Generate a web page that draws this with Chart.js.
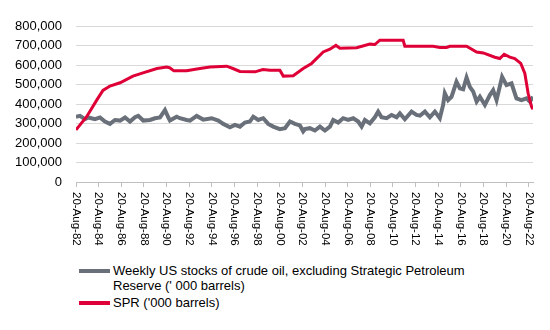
<!DOCTYPE html>
<html>
<head>
<meta charset="utf-8">
<script src="https://cdn.jsdelivr.net/npm/chart.js@4"></script>
<style>
  body { margin: 0; background: #fff; }
  #wrap { position: relative; width: 550px; height: 330px; }
  #oilChart { position: absolute; left: 0; top: 0; }
  #legend { position: absolute; left: 79px; top: 263px; font: 13px "Liberation Sans", Arial, sans-serif; color: #000; }
  .item { position: relative; padding-left: 34px; line-height: 15px; margin-bottom: 2px; }
  .swatch { position: absolute; left: 0; top: 6px; width: 31px; height: 4px; }
</style>
</head>
<body>
<div id="wrap">
  <canvas id="oilChart" width="550" height="252"></canvas>
  <div id="legend"></div>
</div>
<script>
// Weekly US commercial crude stocks ('000 barrels)
const stockYears = [1982.63, 1982.98, 1983.42, 1983.72, 1984.31, 1984.75, 1985.19, 1985.63, 1986.07, 1986.52,
    1986.96, 1987.40, 1987.84, 1988.13, 1988.57, 1989.16, 1989.61, 1990.05, 1990.49, 1990.78,
    1990.93, 1991.52, 1991.81, 1992.41, 1992.70, 1993.29, 1993.87, 1994.61, 1995.20, 1995.64,
    1996.23, 1996.67, 1997.11, 1997.55, 1997.99, 1998.29, 1998.73, 1999.17, 1999.61, 2000.05,
    2000.64, 2001.09, 2001.53, 2001.97, 2002.41, 2002.70, 2002.85, 2003.29, 2003.73, 2004.18,
    2004.62, 2005.06, 2005.35, 2005.79, 2006.23, 2006.67, 2007.12, 2007.56, 2007.86, 2008.15,
    2008.59, 2009.03, 2009.32, 2009.62, 2010.07, 2010.51, 2010.95, 2011.24, 2011.68, 2012.27,
    2012.71, 2013.01, 2013.45, 2013.89, 2014.33, 2014.77, 2015.06, 2015.21, 2015.50, 2015.80,
    2016.24, 2016.54, 2016.83, 2017.13, 2017.42, 2017.72, 2018.02, 2018.31, 2018.75, 2019.19,
    2019.48, 2019.78, 2020.27, 2020.66, 2021.10, 2021.54, 2021.98, 2022.43, 2022.72, 2023.00];
const stockValues = [335, 339, 322, 331, 322, 331, 310, 298, 318, 315,
    331, 310, 332, 339, 315, 318, 327, 331, 369, 332,
    315, 335, 327, 318, 315, 339, 320, 327, 315, 298,
    281, 293, 284, 305, 310, 335, 318, 327, 298, 284,
    271, 276, 310, 298, 290, 260, 271, 276, 264, 284,
    264, 284, 318, 305, 327, 318, 327, 310, 284, 318,
    301, 332, 361, 332, 327, 344, 332, 352, 322, 361,
    344, 340, 361, 332, 361, 327, 395, 455, 420, 437,
    514, 480, 475, 536, 488, 463, 412, 437, 395, 446,
    471, 420, 539, 497, 506, 429, 420, 429, 412, 437];

// SPR ('000 barrels)
const sprYears = [1982.63, 1983.57, 1984.46, 1985.01, 1985.63, 1986.52, 1987.66, 1988.55, 1989.78, 1990.64,
    1990.93, 1991.28, 1992.40, 1993.58, 1994.46, 1995.94, 1996.49, 1997.11, 1998.44, 1999.14,
    1999.76, 2000.64, 2000.94, 2001.82, 2002.70, 2003.44, 2004.47, 2005.06, 2005.59, 2005.94,
    2007.42, 2008.59, 2009.03, 2009.47, 2011.53, 2011.68, 2014.18, 2014.77, 2015.36, 2015.66,
    2017.13, 2018.02, 2018.60, 2019.63, 2020.07, 2020.45, 2020.95, 2021.39, 2021.92, 2022.28,
    2022.57, 2022.87, 2023.00];
const sprValues = [267, 335, 420, 470, 492, 509, 543, 560, 582, 590,
    585, 570, 570, 582, 590, 594, 582, 567, 565, 577,
    573, 573, 543, 545, 582, 608, 667, 681, 701, 686,
    689, 707, 705, 727, 727, 696, 696, 690, 690, 696,
    696, 667, 662, 640, 633, 655, 640, 633, 608, 557,
    455, 386, 373];

const tickYears = [1982.63, 1984.63, 1986.63, 1988.63, 1990.63, 1992.63, 1994.63, 1996.63, 1998.63, 2000.63,
    2002.63, 2004.63, 2006.63, 2008.63, 2010.63, 2012.63, 2014.63, 2016.63, 2018.63, 2020.63, 2022.63];
const tickLabels = ["20-Aug-82", "20-Aug-84", "20-Aug-86", "20-Aug-88", "20-Aug-90", "20-Aug-92", "20-Aug-94",
    "20-Aug-96", "20-Aug-98", "20-Aug-00", "20-Aug-02", "20-Aug-04", "20-Aug-06", "20-Aug-08", "20-Aug-10",
    "20-Aug-12", "20-Aug-14", "20-Aug-16", "20-Aug-18", "20-Aug-20", "20-Aug-22"];

const seriesNames = ["Weekly US stocks of crude oil, excluding Strategic Petroleum<br>Reserve (' 000 barrels)", "SPR ('000 barrels)"];
const GREY = "#6a7079";
const RED = "#de0036";

const FONT = "\"Liberation Sans\", Arial, sans-serif";

// rotated clockwise date labels (Chart.js only rotates the other way)
const dateLabels = {
    id: "dateLabels",
    afterDraw(chart) {
        const xs = chart.scales.x;
        const c = chart.ctx;
        c.save();
        c.font = "11.5px " + FONT;
        c.fillStyle = "#000";
        c.textAlign = "left";
        c.textBaseline = "middle";
        tickYears.forEach((t, i) => {
            c.save();
            c.translate(xs.getPixelForValue(t), xs.top + 10);
            c.rotate(Math.PI / 2);
            c.fillText(tickLabels[i], 0, 0);
            c.restore();
        });
        c.restore();
    }
};

const chart = new Chart(document.getElementById("oilChart"), {
    type: "line",
    data: {
        datasets: [{
            label: "SPR",
            data: sprYears.map((x, i) => ({ x: x, y: sprValues[i] * 1000 })),
            borderColor: RED,
            borderWidth: 3,
            pointRadius: 0,
            tension: 0,
            order: 0
        }, {
            label: "Stocks",
            data: stockYears.map((x, i) => ({ x: x, y: stockValues[i] * 1000 })),
            borderColor: GREY,
            borderWidth: 4,
            pointRadius: 0,
            tension: 0,
            order: 1
        }]
    },
    options: {
        responsive: false,
        animation: false,
        layout: { padding: { top: 26, right: 17, left: 0, bottom: 0 } },
        plugins: { legend: { display: false }, tooltip: { enabled: false } },
        scales: {
            x: {
                type: "linear",
                min: 1982.63,
                max: 2023.0,
                afterBuildTicks: (s) => { s.ticks = tickYears.map(v => ({ value: v })); },
                afterFit: (s) => { s.height = 70; },
                ticks: { display: false },
                grid: { drawOnChartArea: false, drawTicks: true, tickLength: 5, color: "#bfbfbf" },
                border: { color: "#bfbfbf" }
            },
            y: {
                min: 0,
                max: 800000,
                afterFit: (s) => { s.width = 76; },
                ticks: {
                    stepSize: 100000,
                    padding: 14,
                    color: "#000",
                    font: { size: 13, family: FONT },
                    callback: (v) => v.toLocaleString("en-US")
                },
                grid: { color: "#d9d9d9", drawTicks: false },
                border: { display: false }
            }
        }
    },
    plugins: [dateLabels]
});

const legend = document.getElementById("legend");
[GREY, RED].forEach((col, i) => {
    const d = document.createElement("div");
    d.className = "item";
    d.innerHTML = `<span class="swatch" style="background:${col}"></span>${seriesNames[i]}`;
    legend.appendChild(d);
});
</script>
</body>
</html>
